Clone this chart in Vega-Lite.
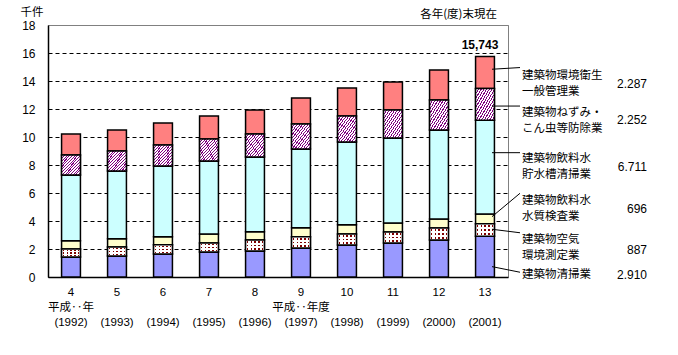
{
  "$schema": "https://vega.github.io/schema/vega-lite/v6.json",
  "width": 460,
  "height": 252,
  "autosize": "none",
  "padding": {"left": 48, "top": 25, "right": 170, "bottom": 78},
  "config": {
    "font": "Liberation Sans, Noto Sans CJK JP",
    "view": {"stroke": "#808080", "strokeWidth": 1},
    "axis": {"labelFont": "Liberation Sans, Noto Sans CJK JP", "titleFont": "Noto Sans CJK JP", "labelColor": "#000", "titleColor": "#000"},
    "axisY": {"titleAngle": 0, "titleAlign": "left", "titleBaseline": "bottom", "titleX": -28, "titleY": -8, "titleFontSize": 11.5, "titleFontWeight": "normal",
      "domainColor": "#000", "domainWidth": 1.5, "ticks": false, "tickSize": 0, "labelPadding": 13, "labelFontSize": 12, "labelOverlap": false, "grid": true, "gridWidth": 1}
  },
  "title": {"text": "各年(度)末現在", "anchor": "end", "frame": "group", "dx": -11, "dy": 12, "offset": -13, "baseline": "bottom", "fontSize": 11.5, "fontWeight": "normal", "font": "Noto Sans CJK JP", "color": "#000"},
  "datasets": {
    "bars": [
      {"yr": 4, "s": 1, "v": 1.43}, {"yr": 4, "s": 2, "v": 0.57}, {"yr": 4, "s": 3, "v": 0.59}, {"yr": 4, "s": 4, "v": 4.70}, {"yr": 4, "s": 5, "v": 1.42}, {"yr": 4, "s": 6, "v": 1.50},
      {"yr": 5, "s": 1, "v": 1.50}, {"yr": 5, "s": 2, "v": 0.64}, {"yr": 5, "s": 3, "v": 0.60}, {"yr": 5, "s": 4, "v": 4.83}, {"yr": 5, "s": 5, "v": 1.43}, {"yr": 5, "s": 6, "v": 1.50},
      {"yr": 6, "s": 1, "v": 1.64}, {"yr": 6, "s": 2, "v": 0.67}, {"yr": 6, "s": 3, "v": 0.57}, {"yr": 6, "s": 4, "v": 5.05}, {"yr": 6, "s": 5, "v": 1.50}, {"yr": 6, "s": 6, "v": 1.57},
      {"yr": 7, "s": 1, "v": 1.79}, {"yr": 7, "s": 2, "v": 0.64}, {"yr": 7, "s": 3, "v": 0.64}, {"yr": 7, "s": 4, "v": 5.22}, {"yr": 7, "s": 5, "v": 1.57}, {"yr": 7, "s": 6, "v": 1.64},
      {"yr": 8, "s": 1, "v": 1.86}, {"yr": 8, "s": 2, "v": 0.78}, {"yr": 8, "s": 3, "v": 0.60}, {"yr": 8, "s": 4, "v": 5.33}, {"yr": 8, "s": 5, "v": 1.64}, {"yr": 8, "s": 6, "v": 1.72},
      {"yr": 9, "s": 1, "v": 2.07}, {"yr": 9, "s": 2, "v": 0.81}, {"yr": 9, "s": 3, "v": 0.64}, {"yr": 9, "s": 4, "v": 5.62}, {"yr": 9, "s": 5, "v": 1.79}, {"yr": 9, "s": 6, "v": 1.86},
      {"yr": 10, "s": 1, "v": 2.29}, {"yr": 10, "s": 2, "v": 0.78}, {"yr": 10, "s": 3, "v": 0.67}, {"yr": 10, "s": 4, "v": 5.90}, {"yr": 10, "s": 5, "v": 1.86}, {"yr": 10, "s": 6, "v": 2.00},
      {"yr": 11, "s": 1, "v": 2.43}, {"yr": 11, "s": 2, "v": 0.78}, {"yr": 11, "s": 3, "v": 0.65}, {"yr": 11, "s": 4, "v": 6.07}, {"yr": 11, "s": 5, "v": 2.00}, {"yr": 11, "s": 6, "v": 2.00},
      {"yr": 12, "s": 1, "v": 2.64}, {"yr": 12, "s": 2, "v": 0.86}, {"yr": 12, "s": 3, "v": 0.64}, {"yr": 12, "s": 4, "v": 6.36}, {"yr": 12, "s": 5, "v": 2.14}, {"yr": 12, "s": 6, "v": 2.15},
      {"yr": 13, "s": 1, "v": 2.910}, {"yr": 13, "s": 2, "v": 0.887}, {"yr": 13, "s": 3, "v": 0.696}, {"yr": 13, "s": 4, "v": 6.711}, {"yr": 13, "s": 5, "v": 2.252}, {"yr": 13, "s": 6, "v": 2.287}
    ],
    "notes": [
      {"yr": 13, "name": "建築物環境衛生\n一般管理業", "val": "2.287", "ly": 14.39, "vy": 13.79, "sy": 14.84, "ey": 14.96},
      {"yr": 13, "name": "建築物ねずみ・\nこん虫等防除業", "val": "2.252", "ly": 11.75, "vy": 11.21, "sy": 12.21, "ey": 12.21},
      {"yr": 13, "name": "建築物飲料水\n貯水槽清掃業", "val": "6.711", "ly": 8.46, "vy": 7.86, "sy": 8.88, "ey": 8.88},
      {"yr": 13, "name": "建築物飲料水\n水質検査業", "val": "696", "ly": 5.43, "vy": 4.86, "sy": 4.31, "ey": 5.98},
      {"yr": 13, "name": "建築物空気\n環境測定業", "val": "887", "ly": 2.64, "vy": 1.93, "sy": 3.41, "ey": 3.16},
      {"yr": 13, "name": "建築物清掃業", "val": "2.910", "ly": 0.14, "vy": 0.14, "sy": 0.74, "ey": 0.34}
    ],
    "total": [{"yr": 13, "t": 15.743, "lab": "15,743"}]
  },
  "layer": [
    {
      "data": {"name": "bars"},
      "transform": [{"stack": "v", "groupby": ["yr"], "sort": [{"field": "s"}], "as": ["v0", "v1"]}],
      "layer": [
        {
          "mark": {"type": "bar", "stroke": "#000", "strokeWidth": 1.5},
          "encoding": {
            "x": {"field": "yr", "type": "ordinal", "scale": {"paddingInner": 0.59, "paddingOuter": 0.295},
              "axis": {"title": null, "domainColor": "#000", "domainWidth": 1.5, "ticks": false, "tickSize": 0, "labelAngle": 0, "labelFontSize": 11.5, "labelPadding": 9, "labelLineHeight": 15, "labelBaseline": "top",
                "labelExpr": "[datum.value + '', datum.value == 4 ? '平成‥年' : (datum.value == 9 ? '平成‥年度' : '\u200b'), '(' + (datum.value + 1988) + ')']"}},
            "y": {"field": "v1", "type": "quantitative", "scale": {"domain": [0, 18], "nice": false},
              "axis": {"title": "千件", "values": [0, 2, 4, 6, 8, 10, 12, 14, 16, 18], "gridColor": {"condition": {"test": "datum.value == 18", "value": "#808080"}, "value": "#000"}, "gridDash": {"condition": {"test": "datum.value == 18", "value": []}, "value": [4, 3]}}},
            "y2": {"field": "v0"},
            "color": {"field": "s", "type": "nominal", "legend": null, "scale": {"domain": [1, 2, 3, 4, 5, 6], "range": ["#9999FF", "#FFFFFF", "#FFFFCC", "#CCFFFF", "#FFFFFF", "#FF8080"]}}
          }
        },
        {
          "transform": [{"filter": "datum.s == 5"}],
          "mark": {"type": "bar", "stroke": "#000", "strokeWidth": 1.5, "fill": {"gradient": "linear", "x1": 0, "y1": 0, "x2": 1, "y2": 1, "stops": [
            {"offset": 0, "color": "#800080"}, {"offset": 0.0286, "color": "#800080"}, {"offset": 0.0286, "color": "#FFFFFF"}, {"offset": 0.0714, "color": "#FFFFFF"},
            {"offset": 0.0714, "color": "#800080"}, {"offset": 0.1, "color": "#800080"}, {"offset": 0.1, "color": "#FFFFFF"}, {"offset": 0.1429, "color": "#FFFFFF"},
            {"offset": 0.1429, "color": "#800080"}, {"offset": 0.1714, "color": "#800080"}, {"offset": 0.1714, "color": "#FFFFFF"}, {"offset": 0.2143, "color": "#FFFFFF"},
            {"offset": 0.2143, "color": "#800080"}, {"offset": 0.2429, "color": "#800080"}, {"offset": 0.2429, "color": "#FFFFFF"}, {"offset": 0.2857, "color": "#FFFFFF"},
            {"offset": 0.2857, "color": "#800080"}, {"offset": 0.3143, "color": "#800080"}, {"offset": 0.3143, "color": "#FFFFFF"}, {"offset": 0.3571, "color": "#FFFFFF"},
            {"offset": 0.3571, "color": "#800080"}, {"offset": 0.3857, "color": "#800080"}, {"offset": 0.3857, "color": "#FFFFFF"}, {"offset": 0.4286, "color": "#FFFFFF"},
            {"offset": 0.4286, "color": "#800080"}, {"offset": 0.4571, "color": "#800080"}, {"offset": 0.4571, "color": "#FFFFFF"}, {"offset": 0.5, "color": "#FFFFFF"},
            {"offset": 0.5, "color": "#800080"}, {"offset": 0.5286, "color": "#800080"}, {"offset": 0.5286, "color": "#FFFFFF"}, {"offset": 0.5714, "color": "#FFFFFF"},
            {"offset": 0.5714, "color": "#800080"}, {"offset": 0.6, "color": "#800080"}, {"offset": 0.6, "color": "#FFFFFF"}, {"offset": 0.6429, "color": "#FFFFFF"},
            {"offset": 0.6429, "color": "#800080"}, {"offset": 0.6714, "color": "#800080"}, {"offset": 0.6714, "color": "#FFFFFF"}, {"offset": 0.7143, "color": "#FFFFFF"},
            {"offset": 0.7143, "color": "#800080"}, {"offset": 0.7429, "color": "#800080"}, {"offset": 0.7429, "color": "#FFFFFF"}, {"offset": 0.7857, "color": "#FFFFFF"},
            {"offset": 0.7857, "color": "#800080"}, {"offset": 0.8143, "color": "#800080"}, {"offset": 0.8143, "color": "#FFFFFF"}, {"offset": 0.8571, "color": "#FFFFFF"},
            {"offset": 0.8571, "color": "#800080"}, {"offset": 0.8857, "color": "#800080"}, {"offset": 0.8857, "color": "#FFFFFF"}, {"offset": 0.9286, "color": "#FFFFFF"},
            {"offset": 0.9286, "color": "#800080"}, {"offset": 0.9571, "color": "#800080"}, {"offset": 0.9571, "color": "#FFFFFF"}, {"offset": 1, "color": "#FFFFFF"}
          ]}},
          "encoding": {
            "x": {"field": "yr", "type": "ordinal"},
            "y": {"field": "v1", "type": "quantitative", "axis": {"title": "千件", "values": [0, 2, 4, 6, 8, 10, 12, 14, 16, 18], "gridColor": {"condition": {"test": "datum.value == 18", "value": "#808080"}, "value": "#000"}, "gridDash": {"condition": {"test": "datum.value == 18", "value": []}, "value": [4, 3]}}},
            "y2": {"field": "v0"}
          }
        },
        {
          "transform": [{"filter": "datum.s == 2"}],
          "mark": {"type": "bar", "strokeWidth": 0, "fill": {"gradient": "linear", "x1": 0, "y1": 0, "x2": 1, "y2": 0, "stops": [
            {"offset": 0, "color": "#FFFFFF"}, {"offset": 0.07, "color": "#FFFFFF"}, {"offset": 0.07, "color": "#800000"}, {"offset": 0.14, "color": "#800000"}, {"offset": 0.14, "color": "#FFFFFF"},
            {"offset": 0.27, "color": "#FFFFFF"}, {"offset": 0.27, "color": "#800000"}, {"offset": 0.34, "color": "#800000"}, {"offset": 0.34, "color": "#FFFFFF"},
            {"offset": 0.47, "color": "#FFFFFF"}, {"offset": 0.47, "color": "#800000"}, {"offset": 0.54, "color": "#800000"}, {"offset": 0.54, "color": "#FFFFFF"},
            {"offset": 0.67, "color": "#FFFFFF"}, {"offset": 0.67, "color": "#800000"}, {"offset": 0.74, "color": "#800000"}, {"offset": 0.74, "color": "#FFFFFF"},
            {"offset": 0.87, "color": "#FFFFFF"}, {"offset": 0.87, "color": "#800000"}, {"offset": 0.94, "color": "#800000"}, {"offset": 0.94, "color": "#FFFFFF"},
            {"offset": 1, "color": "#FFFFFF"}
          ]}},
          "encoding": {
            "x": {"field": "yr", "type": "ordinal"},
            "y": {"field": "v1", "type": "quantitative", "axis": {"title": "千件", "values": [0, 2, 4, 6, 8, 10, 12, 14, 16, 18], "gridColor": {"condition": {"test": "datum.value == 18", "value": "#808080"}, "value": "#000"}, "gridDash": {"condition": {"test": "datum.value == 18", "value": []}, "value": [4, 3]}}},
            "y2": {"field": "v0"}
          }
        },
        {
          "transform": [{"filter": "datum.s == 2"}],
          "mark": {"type": "bar", "stroke": "#000", "strokeWidth": 1.5, "fill": {"gradient": "linear", "x1": 0, "y1": 0, "x2": 0, "y2": 1, "stops": [
            {"offset": 0, "color": "#FFFFFF"}, {"offset": 0.1, "color": "#FFFFFF"}, {"offset": 0.1, "color": "rgba(255,255,255,0)"}, {"offset": 0.25, "color": "rgba(255,255,255,0)"}, {"offset": 0.25, "color": "#FFFFFF"},
            {"offset": 0.43, "color": "#FFFFFF"}, {"offset": 0.43, "color": "rgba(255,255,255,0)"}, {"offset": 0.58, "color": "rgba(255,255,255,0)"}, {"offset": 0.58, "color": "#FFFFFF"},
            {"offset": 0.76, "color": "#FFFFFF"}, {"offset": 0.76, "color": "rgba(255,255,255,0)"}, {"offset": 0.91, "color": "rgba(255,255,255,0)"}, {"offset": 0.91, "color": "#FFFFFF"},
            {"offset": 1, "color": "#FFFFFF"}
          ]}},
          "encoding": {
            "x": {"field": "yr", "type": "ordinal"},
            "y": {"field": "v1", "type": "quantitative", "axis": {"title": "千件", "values": [0, 2, 4, 6, 8, 10, 12, 14, 16, 18], "gridColor": {"condition": {"test": "datum.value == 18", "value": "#808080"}, "value": "#000"}, "gridDash": {"condition": {"test": "datum.value == 18", "value": []}, "value": [4, 3]}}},
            "y2": {"field": "v0"}
          }
        }
      ]
    },
    {
      "data": {"name": "notes"},
      "layer": [
        {
          "mark": {"type": "rule", "color": "#000", "strokeWidth": 1, "xOffset": 7, "x2Offset": 35},
          "encoding": {
            "x": {"field": "yr", "type": "ordinal"},
            "x2": {"field": "yr"},
            "y": {"field": "sy", "type": "quantitative", "axis": {"title": "千件", "values": [0, 2, 4, 6, 8, 10, 12, 14, 16, 18], "gridColor": {"condition": {"test": "datum.value == 18", "value": "#808080"}, "value": "#000"}, "gridDash": {"condition": {"test": "datum.value == 18", "value": []}, "value": [4, 3]}}},
            "y2": {"field": "ey"}
          }
        },
        {
          "mark": {"type": "text", "align": "left", "baseline": "middle", "dx": 37, "lineBreak": "\n", "lineHeight": 16, "fontSize": 11.5, "font": "Noto Sans CJK JP", "color": "#000"},
          "encoding": {
            "x": {"field": "yr", "type": "ordinal"},
            "y": {"field": "ly", "type": "quantitative", "axis": {"title": "千件", "values": [0, 2, 4, 6, 8, 10, 12, 14, 16, 18], "gridColor": {"condition": {"test": "datum.value == 18", "value": "#808080"}, "value": "#000"}, "gridDash": {"condition": {"test": "datum.value == 18", "value": []}, "value": [4, 3]}}},
            "text": {"field": "name"}
          }
        },
        {
          "mark": {"type": "text", "align": "right", "baseline": "middle", "dx": 162, "fontSize": 12, "color": "#000"},
          "encoding": {
            "x": {"field": "yr", "type": "ordinal"},
            "y": {"field": "vy", "type": "quantitative", "axis": {"title": "千件", "values": [0, 2, 4, 6, 8, 10, 12, 14, 16, 18], "gridColor": {"condition": {"test": "datum.value == 18", "value": "#808080"}, "value": "#000"}, "gridDash": {"condition": {"test": "datum.value == 18", "value": []}, "value": [4, 3]}}},
            "text": {"field": "val"}
          }
        }
      ]
    },
    {
      "data": {"name": "total"},
      "mark": {"type": "text", "align": "center", "baseline": "bottom", "dx": -5, "dy": -5, "fontSize": 12, "fontWeight": "bold", "color": "#000"},
      "encoding": {
        "x": {"field": "yr", "type": "ordinal"},
        "y": {"field": "t", "type": "quantitative", "axis": {"title": "千件", "values": [0, 2, 4, 6, 8, 10, 12, 14, 16, 18], "gridColor": {"condition": {"test": "datum.value == 18", "value": "#808080"}, "value": "#000"}, "gridDash": {"condition": {"test": "datum.value == 18", "value": []}, "value": [4, 3]}}},
        "text": {"field": "lab"}
      }
    }
  ]
}
